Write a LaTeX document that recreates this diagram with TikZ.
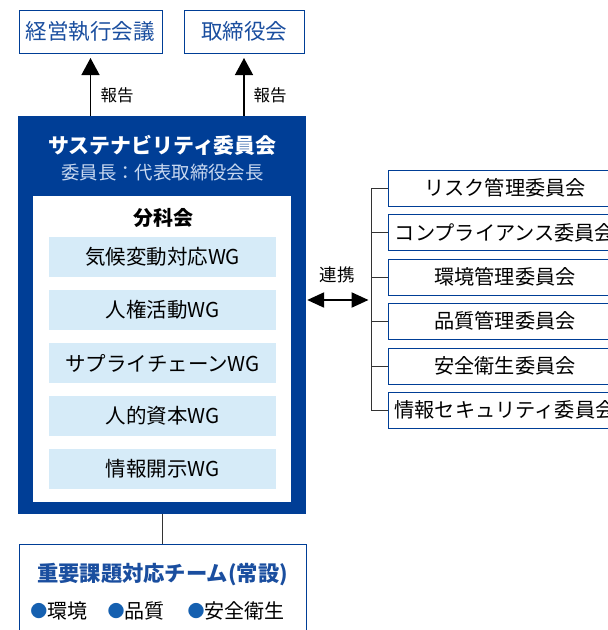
\documentclass[tikz,border=0pt]{standalone}
\usepackage{fontspec}
\setmainfont{Noto Sans CJK JP}
\usetikzlibrary{arrows.meta,calc}
\definecolor{navy}{HTML}{003E96}
\definecolor{textblue}{HTML}{1A4E9F}
\definecolor{wgfill}{HTML}{D6EBF8}
\definecolor{subcol}{HTML}{C8D8F0}
\definecolor{linegray}{HTML}{333333}
\definecolor{bulletblue}{HTML}{1560B0}
\begin{document}
\begin{tikzpicture}[x=1pt,y=-1pt,
  topbox/.style={draw=navy, line width=1pt, fill=white, text=textblue, font=\fontsize{21.5}{25}\selectfont, inner sep=0pt, minimum height=43pt},
  wgbox/.style={fill=wgfill, minimum width=227pt, minimum height=40pt, inner sep=0pt, font=\fontsize{20.5}{24}\selectfont},
  cbox/.style={draw=navy, line width=1pt, fill=white, minimum width=234pt, minimum height=36pt, inner sep=0pt, font=\fontsize{20.2}{24}\selectfont},
  link/.style={draw=linegray, line width=1pt},
  uparr/.style={-{Triangle[width=18pt,length=17pt]}, line width=1.3pt, black, shorten >=4.5pt},
  dblarr/.style={{Triangle[width=15pt,length=17pt]}-{Triangle[width=15pt,length=17pt]}, line width=2.2pt, black},
  lbl/.style={font=\fontsize{16.5}{20}\selectfont, inner sep=0pt},
  bul/.style={font=\fontsize{20}{24}\selectfont, inner sep=0pt},
  dot/.style={text=bulletblue, font=\fontsize{17}{20}\selectfont, inner sep=0pt}
]
\useasboundingbox (0,0) rectangle (608,630);

% top boxes
\node[topbox, minimum width=143pt] (keiei) at (90.5,31.5) {経営執行会議};
\node[topbox, minimum width=120pt] (tori) at (244,31.5) {取締役会};

% sustainability committee
\node[fill=navy, minimum width=288pt, minimum height=398pt, inner sep=0pt] (sus) at (162,315) {};
\node[text=white, font=\bfseries\fontsize{20.9}{25}\selectfont, inner sep=0pt] (sustitle) at (162.5,145) {サステナビリティ委員会};
\node[text=subcol, font=\fontsize{18.4}{22}\selectfont, inner sep=0pt] (chair) at (162.5,173) {委員長：代表取締役会長};
\node[fill=white, minimum width=258pt, minimum height=306pt, inner sep=0pt] (inner) at (162,349) {};
\node[font=\bfseries\fontsize{20}{24}\selectfont, inner sep=0pt] (bunka) at (163,218) {分科会};
\node[wgbox] (wg1) at (162.5,257) {気候変動対応WG};
\node[wgbox] (wg2) at (162.5,310) {人権活動WG};
\node[wgbox] (wg3) at (162.5,363) {サプライチェーンWG};
\node[wgbox] (wg4) at (162.5,416) {人的資本WG};
\node[wgbox] (wg5) at (162.5,469) {情報開示WG};

% report arrows
\draw[uparr] (sus.north -| keiei.south) -- (keiei.south);
\draw[uparr] (sus.north -| tori.south) -- (tori.south);
\node[lbl] (rep1) at (117,95) {報告};
\node[lbl] (rep2) at (270,95) {報告};

% team box
\node[draw=navy, line width=1pt, minimum width=287pt, minimum height=100pt, inner sep=0pt, anchor=north] (team) at (162.5,544) {};
\draw[link] (sus.south -| team.north) -- (team.north);
\node[text=textblue, font=\bfseries\fontsize{21.3}{25}\selectfont, inner sep=0pt] (teamtitle) at (162.5,575) {重要課題対応チーム(常設)};
\node[dot] (d1) at (39,611) {●};
\node[bul, anchor=west] (b1) at (47,611) {環境};
\node[dot] (d2) at (116,611) {●};
\node[bul, anchor=west] (b2) at (124,611) {品質};
\node[dot] (d3) at (196,611) {●};
\node[bul, anchor=west] (b3) at (204,611) {安全衛生};

% committees
\node[cbox] (c1) at (505,188) {リスク管理委員会};
\node[cbox] (c2) at (505,232.5) {コンプライアンス委員会};
\node[cbox] (c3) at (505,277) {環境管理委員会};
\node[cbox] (c4) at (505,321) {品質管理委員会};
\node[cbox] (c5) at (505,366) {安全衛生委員会};
\node[cbox] (c6) at (505,410) {情報セキュリティ委員会};
\draw[link] (c1.west) -- ++(-16,0) coordinate (bt);
\draw[link] (bt) -- (c6.west -| bt) -- (c6.west);
\foreach \c in {c2,c3,c4,c5} \draw[link] (\c.west) -- (\c.west -| bt);

% cooperation arrow
\coordinate (mid) at (0,300);
\draw[dblarr, shorten <=1pt, shorten >=3pt] (sus.east |- mid) -- (bt |- mid);
\node[font=\fontsize{17.5}{21}\selectfont, inner sep=0pt] (renkei) at (337,275) {連携};
\end{tikzpicture}
\end{document}
